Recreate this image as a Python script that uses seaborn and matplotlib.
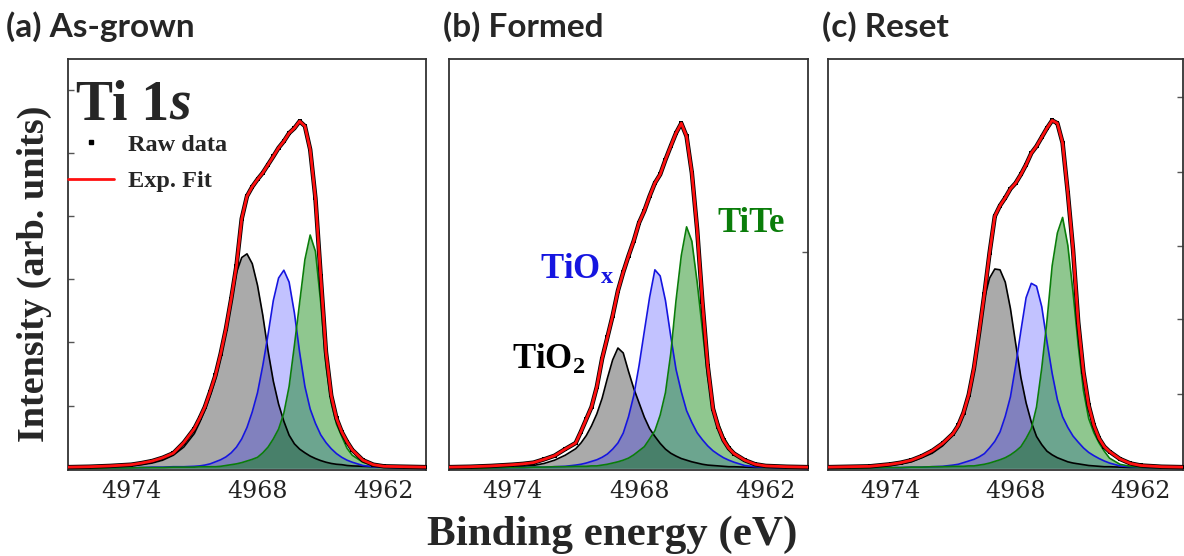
import matplotlib
matplotlib.use("Agg")
import matplotlib.pyplot as plt
import seaborn as sns
from matplotlib.lines import Line2D

# ---------------- data ----------------
BE = [4977, 4976, 4975, 4974, 4973.5, 4973, 4972.5, 4972, 4971.5,
      4971, 4970.75, 4970.5, 4970.25, 4970, 4969.75, 4969.5, 4969.25, 4969,
      4968.75, 4968.5, 4968.25, 4968, 4967.75, 4967.5, 4967.25, 4967, 4966.75,
      4966.5, 4966.25, 4966, 4965.75, 4965.5, 4965.25, 4965, 4964.75, 4964.5,
      4964.25, 4964, 4963.75, 4963.5, 4963, 4962.5, 4962, 4961, 4960]

# (a) As-grown
AS_FIT = [0.003, 0.004, 0.006, 0.009, 0.013, 0.018, 0.026, 0.037, 0.063,
          0.097, 0.122, 0.150, 0.187, 0.227, 0.280, 0.341, 0.414, 0.495,
          0.610, 0.665, 0.688, 0.706, 0.722, 0.742, 0.762, 0.783, 0.799,
          0.819, 0.831, 0.848, 0.836, 0.779, 0.660, 0.470, 0.284, 0.178,
          0.122, 0.089, 0.065, 0.045, 0.020, 0.009, 0.005, 0.004, 0.003]
AS_TIO2 = [0.001, 0.002, 0.003, 0.006, 0.009, 0.013, 0.020, 0.032, 0.052,
           0.085, 0.112, 0.142, 0.178, 0.218, 0.272, 0.335, 0.410, 0.478,
           0.515, 0.524, 0.500, 0.447, 0.374, 0.287, 0.213, 0.157, 0.115,
           0.081, 0.060, 0.047, 0.038, 0.030, 0.024, 0.019, 0.015, 0.012,
           0.010, 0.009, 0.007, 0.006, 0.005, 0.004, 0.003, 0.002, 0.001]
AS_TIOX = [0.000, 0.001, 0.001, 0.002, 0.002, 0.003, 0.003, 0.004, 0.004,
           0.005, 0.006, 0.008, 0.011, 0.016, 0.021, 0.028, 0.038, 0.052,
           0.072, 0.100, 0.138, 0.185, 0.251, 0.327, 0.410, 0.465, 0.484,
           0.455, 0.380, 0.283, 0.200, 0.145, 0.110, 0.082, 0.063, 0.048,
           0.036, 0.027, 0.020, 0.015, 0.007, 0.004, 0.003, 0.001, 0.000]
AS_TITE = [0.000, 0.000, 0.001, 0.001, 0.002, 0.002, 0.002, 0.003, 0.003,
           0.003, 0.004, 0.004, 0.004, 0.004, 0.005, 0.007, 0.009, 0.011,
           0.014, 0.018, 0.022, 0.027, 0.038, 0.052, 0.072, 0.096, 0.135,
           0.200, 0.300, 0.405, 0.510, 0.570, 0.530, 0.405, 0.251, 0.160,
           0.108, 0.078, 0.049, 0.032, 0.015, 0.007, 0.004, 0.002, 0.001]

# (b) Formed
FO_FIT = [0.003, 0.004, 0.006, 0.009, 0.011, 0.014, 0.022, 0.031, 0.047,
          0.062, 0.090, 0.120, 0.150, 0.199, 0.268, 0.320, 0.373, 0.434,
          0.479, 0.519, 0.556, 0.600, 0.629, 0.665, 0.697, 0.718, 0.754,
          0.787, 0.819, 0.843, 0.811, 0.722, 0.584, 0.406, 0.251, 0.146,
          0.101, 0.069, 0.049, 0.036, 0.020, 0.010, 0.006, 0.004, 0.003]
FO_TIO2 = [0.001, 0.001, 0.002, 0.003, 0.005, 0.007, 0.012, 0.020, 0.032,
           0.048, 0.062, 0.080, 0.104, 0.133, 0.171, 0.220, 0.265, 0.294,
           0.282, 0.237, 0.195, 0.160, 0.125, 0.097, 0.078, 0.061, 0.047,
           0.037, 0.030, 0.024, 0.020, 0.016, 0.013, 0.010, 0.008, 0.007,
           0.006, 0.005, 0.004, 0.004, 0.003, 0.002, 0.002, 0.001, 0.001]
FO_TIOX = [0.000, 0.001, 0.001, 0.002, 0.002, 0.003, 0.003, 0.004, 0.005,
           0.008, 0.010, 0.013, 0.017, 0.021, 0.027, 0.035, 0.047, 0.062,
           0.086, 0.126, 0.178, 0.251, 0.335, 0.418, 0.485, 0.470, 0.410,
           0.323, 0.242, 0.187, 0.141, 0.112, 0.087, 0.070, 0.055, 0.043,
           0.034, 0.026, 0.020, 0.015, 0.007, 0.004, 0.003, 0.001, 0.000]
FO_TITE = [0.000, 0.000, 0.001, 0.002, 0.002, 0.003, 0.003, 0.004, 0.004,
           0.005, 0.005, 0.005, 0.006, 0.006, 0.008, 0.010, 0.013, 0.016,
           0.020, 0.025, 0.033, 0.043, 0.053, 0.072, 0.092, 0.130, 0.185,
           0.280, 0.410, 0.520, 0.590, 0.555, 0.455, 0.338, 0.222, 0.152,
           0.110, 0.077, 0.055, 0.038, 0.018, 0.007, 0.004, 0.002, 0.001]

# (c) Reset
RE_FIT = [0.003, 0.004, 0.005, 0.010, 0.014, 0.020, 0.030, 0.043, 0.061,
          0.085, 0.105, 0.136, 0.180, 0.245, 0.333, 0.426, 0.527, 0.616,
          0.642, 0.661, 0.683, 0.697, 0.718, 0.742, 0.770, 0.787, 0.809,
          0.831, 0.850, 0.843, 0.795, 0.673, 0.535, 0.357, 0.235, 0.154,
          0.105, 0.073, 0.053, 0.041, 0.023, 0.012, 0.007, 0.004, 0.003]
RE_TIO2 = [0.001, 0.002, 0.004, 0.007, 0.011, 0.016, 0.026, 0.037, 0.055,
           0.082, 0.105, 0.136, 0.180, 0.245, 0.333, 0.415, 0.465, 0.487,
           0.485, 0.455, 0.390, 0.305, 0.222, 0.160, 0.113, 0.078, 0.058,
           0.042, 0.033, 0.026, 0.021, 0.016, 0.013, 0.011, 0.009, 0.007,
           0.006, 0.005, 0.004, 0.004, 0.003, 0.002, 0.002, 0.001, 0.001]
RE_TIOX = [0.000, 0.001, 0.001, 0.002, 0.002, 0.003, 0.003, 0.004, 0.005,
           0.008, 0.010, 0.014, 0.018, 0.022, 0.028, 0.036, 0.050, 0.066,
           0.089, 0.127, 0.175, 0.251, 0.336, 0.417, 0.452, 0.445, 0.395,
           0.310, 0.232, 0.168, 0.126, 0.100, 0.079, 0.064, 0.050, 0.039,
           0.031, 0.024, 0.018, 0.013, 0.006, 0.004, 0.003, 0.001, 0.000]
RE_TITE = [0.000, 0.000, 0.001, 0.002, 0.002, 0.003, 0.003, 0.004, 0.004,
           0.005, 0.005, 0.005, 0.006, 0.006, 0.008, 0.010, 0.013, 0.017,
           0.021, 0.026, 0.033, 0.042, 0.053, 0.073, 0.097, 0.150, 0.245,
           0.360, 0.495, 0.575, 0.613, 0.545, 0.430, 0.300, 0.190, 0.122,
           0.087, 0.062, 0.042, 0.025, 0.010, 0.005, 0.003, 0.001, 0.000]

PANEL_TITLES = ["(a) As-grown", "(b) Formed", "(c) Reset"]
X_TICKS = [4974, 4968, 4962]
X_MINOR = [4971, 4965]
X_LABEL = "Binding energy (eV)"
Y_LABEL = "Intensity (arb. units)"
LEGEND_LABELS = ["Raw data", "Exp. Fit"]

# ---------------- style ----------------
sns.set_style("white")
plt.rcParams["font.family"] = ["DejaVu Serif"]
plt.rcParams["mathtext.fontset"] = "custom"
plt.rcParams["mathtext.rm"] = "Liberation Serif"
plt.rcParams["mathtext.bf"] = "Liberation Serif:bold"
plt.rcParams["mathtext.it"] = "Liberation Serif:italic"
plt.rcParams["lines.solid_joinstyle"] = "round"

SERIF = ["Liberation Serif", "DejaVu Serif"]
SANS = ["Lato", "Open Sans", "DejaVu Sans"]

W, H = 1184, 556
fig = plt.figure(figsize=(W / 100, H / 100), dpi=100)

boxes = [(68, 426), (449, 808), (828, 1182.5)]
top_px, bot_px = 59, 470

panels = [
    (AS_FIT, AS_TIO2, AS_TIOX, AS_TITE),
    (FO_FIT, FO_TIO2, FO_TIOX, FO_TITE),
    (RE_FIT, RE_TIO2, RE_TIOX, RE_TITE),
]

axes = []
for (x0, x1), (fit, tio2, tiox, tite) in zip(boxes, panels):
    ax = fig.add_axes([x0 / W, (H - bot_px) / H, (x1 - x0) / W, (bot_px - top_px) / H])
    axes.append(ax)
    ax.fill_between(BE, tio2, color="#7f7f7f", alpha=0.66, lw=0, zorder=1)
    ax.fill_between(BE, tiox, color="#0000ff", alpha=0.24, lw=0, zorder=2)
    ax.fill_between(BE, tite, color="#008000", alpha=0.44, lw=0, zorder=3)
    sns.lineplot(x=BE, y=tio2, ax=ax, color="black", lw=1.2, zorder=4)
    sns.lineplot(x=BE, y=tiox, ax=ax, color="#1515e0", lw=1.2, zorder=4)
    sns.lineplot(x=BE, y=tite, ax=ax, color="#0a7d0a", lw=1.2, zorder=4)
    # raw data (black points) under the red fit
    sns.lineplot(x=BE, y=fit, ax=ax, color="black", lw=3.2, zorder=5)
    sns.scatterplot(x=BE, y=fit, ax=ax, color="black", s=9, marker="s",
                    linewidth=0, zorder=5)
    sns.lineplot(x=BE, y=fit, ax=ax, color="#ff1010", lw=2.0, zorder=6)

    ax.set_xlim(4977, 4960)
    ax.set_ylim(-0.004, 1.0)
    ax.set_xticks(X_TICKS)
    ax.set_xticks(X_MINOR, minor=True)
    ax.set_xticklabels([str(t) for t in X_TICKS], fontsize=17, family="DejaVu Serif",
                       color="#222222")
    ax.tick_params(axis="x", which="both", direction="out", length=4, width=1,
                   color="#333333", pad=3)
    ax.set_xlabel("")
    ax.set_ylabel("")
    for sp in ax.spines.values():
        sp.set_color("#333333")
        sp.set_linewidth(1.3)
    ax.set_facecolor("white")

# residual inward y ticks seen in the reference (no labels)
axes[0].set_yticks([0.153, 0.309, 0.462, 0.616, 0.771, 0.925])
axes[0].tick_params(axis="y", direction="in", length=4, width=1, color="#555555",
                    left=True, right=False, labelleft=False)
axes[1].yaxis.tick_right()
axes[1].set_yticks([0.528])
axes[1].tick_params(axis="y", direction="in", length=4, width=1, color="#555555",
                    right=True, left=False, labelright=False)
axes[2].yaxis.tick_right()
axes[2].set_yticks([0.182, 0.365, 0.543, 0.725, 0.908])
axes[2].tick_params(axis="y", direction="in", length=4, width=1, color="#555555",
                    right=True, left=False, labelright=False)

# ---- panel (a) texts ----
ax = axes[0]
t1 = ax.text(0.022, 0.852, "Ti 1", transform=ax.transAxes, fontsize=40,
             fontweight="bold", family=SERIF, va="baseline", ha="left", zorder=8)
ax.annotate("s", xy=(1, 0), xycoords=t1, fontsize=40, fontweight="bold",
            fontstyle="italic", family=SERIF, va="bottom", ha="left", zorder=8)
handles = [Line2D([], [], ls="none", marker="s", ms=2.5, color="black"),
           Line2D([], [], color="#ff1010", lw=2.0)]
ax.legend(handles, LEGEND_LABELS, loc="upper left", bbox_to_anchor=(0.0, 0.818),
          frameon=False, prop={"family": SERIF, "weight": "bold", "size": 17.5},
          handlelength=1.9, handletextpad=0.55, labelspacing=0.6,
          borderaxespad=0, borderpad=0)

# ---- panel (b) texts ----
ax = axes[1]
ax.text(4972.70, 0.462, r"$\mathbf{TiO}_{\mathbf{x}}$", fontsize=25, color="#1515e0",
        va="baseline", ha="left", zorder=8)
ax.text(4964.30, 0.577, "TiTe", fontsize=25, color="#0a7d0a", fontweight="bold",
        family=SERIF, va="baseline", ha="left", zorder=8)
ax.text(4974.0, 0.243, r"$\mathbf{TiO}_{\mathbf{2}}$", fontsize=25, color="black",
        va="baseline", ha="left", zorder=8)

# ---- figure texts ----
title_x = [6, 443, 822]
for tx, title in zip(title_x, PANEL_TITLES):
    fig.text(tx / W, (H - 37) / H, title, fontsize=24, fontweight="bold",
             family=SANS, va="baseline", ha="left")

fig.text(612 / W, (H - 545) / H, X_LABEL, fontsize=31, fontweight="bold",
         family=SERIF, va="baseline", ha="center")
fig.text(34 / W, (H - 274) / H, Y_LABEL, fontsize=27.5, fontweight="bold",
         family=SERIF, va="center", ha="center", rotation=90)

fig.savefig("out.png", dpi=100, facecolor="white")
